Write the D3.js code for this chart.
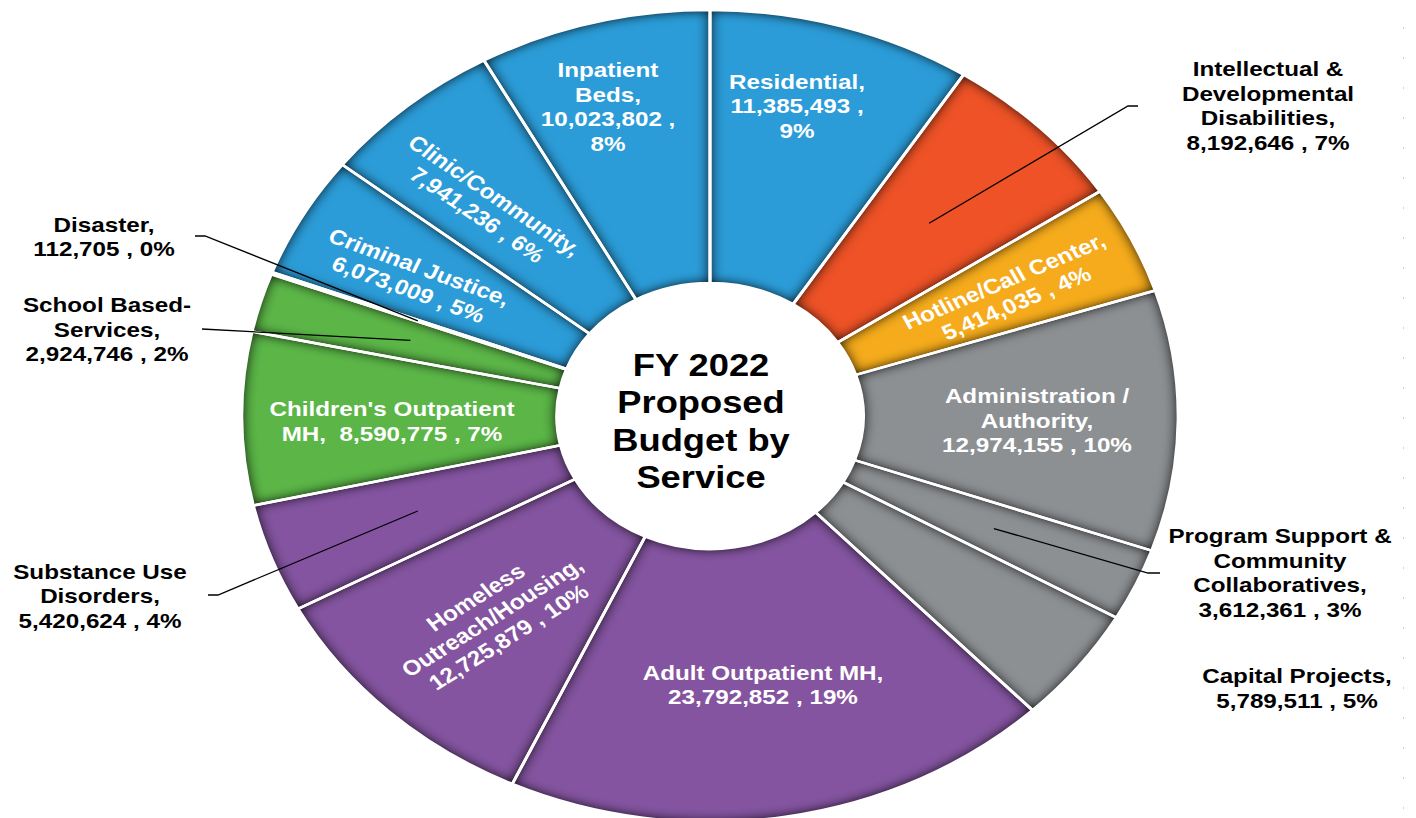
<!DOCTYPE html>
<html>
<head>
<meta charset="utf-8">
<script src="https://cdn.jsdelivr.net/npm/d3@7"></script>
<style>
  html, body { margin: 0; padding: 0; background: #ffffff; }
  svg { display: block; }
  text { font-family: "Liberation Sans", Arial, Helvetica, sans-serif; font-weight: bold; white-space: pre; }
</style>
</head>
<body>
<svg id="chart" width="1416" height="818"></svg>
<script>
// ---- Data: FY 2022 proposed budget by service (clockwise from 12 o'clock) ----
const categories = [
  "Residential",
  "Intellectual & Developmental Disabilities",
  "Hotline/Call Center",
  "Administration / Authority",
  "Program Support & Community Collaboratives",
  "Capital Projects",
  "Adult Outpatient MH",
  "Homeless Outreach/Housing",
  "Substance Use Disorders",
  "Children's Outpatient MH",
  "School Based-Services",
  "Disaster",
  "Criminal Justice",
  "Clinic/Community",
  "Inpatient Beds"
];
const budget = [
  11385493, 8192646, 5414035, 12974155, 3612361, 5789511, 23792852,
  12725879, 5420624, 8590775, 2924746, 112705, 6073009, 7941236, 10023802
];
// Label text lines; {v} = amount, {p} = share of total
const labelLines = [
  ["Residential,", "{v} ,", "{p}"],
  ["Intellectual &", "Developmental", "Disabilities,", "{v} , {p}"],
  ["Hotline/Call Center,", "{v} , {p}"],
  ["Administration /", "Authority,", "{v} , {p}"],
  ["Program Support &", "Community", "Collaboratives,", "{v} , {p}"],
  ["Capital Projects,", "{v} , {p}"],
  ["Adult Outpatient MH,", "{v} , {p}"],
  ["Homeless", "Outreach/Housing,", "{v} , {p}"],
  ["Substance Use", "Disorders,", "{v} , {p}"],
  ["Children's Outpatient", "MH,  {v} , {p}"],
  ["School Based-", "Services,", "{v} , {p}"],
  ["Disaster,", "{v} , {p}"],
  ["Criminal Justice,", "{v} , {p}"],
  ["Clinic/Community,", "{v} , {p}"],
  ["Inpatient", "Beds,", "{v} ,", "{p}"]
];
const titleLines = ["FY 2022", "Proposed", "Budget by", "Service"];

// ---- Styling ----
const sliceColors = [
  "#2b9cd8", "#ee5226", "#f5ab1b", "#8d9093", "#8d9093", "#8d9093", "#8454a0",
  "#8454a0", "#8454a0", "#5bb647", "#5bb647", "#8a8768", "#2b9cd8", "#2b9cd8", "#2b9cd8"
];

// Label placement (page pixels): block centre, visible baseline angle, outside or inside,
// and the elbow points of leader lines for labels that sit outside the ring.
const labelLayout = {
  "Residential":                                { x: 797,  y: 105.5, angle: 0,   inside: true },
  "Intellectual & Developmental Disabilities":  { x: 1268, y: 105.5, angle: 0,   inside: false, leader: [[1138, 106], [1128, 106]] },
  "Hotline/Call Center":                        { x: 1010, y: 292,   angle: -23, inside: true },
  "Administration / Authority":                 { x: 1037, y: 420,   angle: 0,   inside: true },
  "Program Support & Community Collaboratives": { x: 1280, y: 572.5, angle: 0,   inside: false, leader: [[1160, 573], [1148, 573]] },
  "Capital Projects":                           { x: 1297, y: 688,   angle: 0,   inside: false },
  "Adult Outpatient MH":                        { x: 763,  y: 684.5, angle: 0,   inside: true },
  "Homeless Outreach/Housing":                  { x: 492,  y: 617,   angle: -32, inside: true },
  "Substance Use Disorders":                    { x: 100,  y: 595.5, angle: 0,   inside: false, leader: [[208, 595], [218, 595]] },
  "Children's Outpatient MH":                   { x: 392,  y: 421,   angle: 0,   inside: true },
  "School Based-Services":                      { x: 107,  y: 329,   angle: 0,   inside: false, leader: [[202, 329]] },
  "Disaster":                                   { x: 104,  y: 236.5, angle: 0,   inside: false, leader: [[195, 236], [205, 236]] },
  "Criminal Justice":                           { x: 414,  y: 278,   angle: 20,  inside: true },
  "Clinic/Community":                           { x: 486,  y: 205,   angle: 34,  inside: true },
  "Inpatient Beds":                             { x: 608,  y: 106.5, angle: 0,   inside: true }
};

// ---- Geometry ----
const W = 1416, H = 818;
const cx = 710, cy = 416;      // ring centre
const SX = 1.153;              // horizontal stretch of the ring
const R = 406, R0 = 133;       // outer / inner radius (before stretch)
const labelSize = 21, labelLead = 24.5;

const total = d3.sum(budget);
const fmtNum = d3.format(",");
const fmtPct = v => Math.round(v / total * 100) + "%";

const rows = categories.map((c, i) => ({ name: c, value: budget[i], lines: labelLines[i] }));
const color = d3.scaleOrdinal(categories, sliceColors);

const pie = d3.pie().value(d => d.value).sort(null);
const arcs = pie(rows);
const arc = d3.arc().innerRadius(R0).outerRadius(R);
const leaderArc = d3.arc().innerRadius(R * 2 / 3).outerRadius(R * 2 / 3);

const svg = d3.select("#chart");

// Inner-shadow filter giving each slice its darkened rim
const defs = svg.append("defs");
const f = defs.append("filter").attr("id", "inset")
  .attr("color-interpolation-filters", "sRGB")
  .attr("x", "-10%").attr("y", "-10%").attr("width", "120%").attr("height", "120%");
f.append("feComponentTransfer").attr("in", "SourceAlpha").attr("result", "inv")
  .append("feFuncA").attr("type", "table").attr("tableValues", "1 0");
f.append("feGaussianBlur").attr("in", "inv").attr("stdDeviation", 6).attr("result", "blur");
f.append("feComposite").attr("in", "blur").attr("in2", "SourceAlpha").attr("operator", "in").attr("result", "inner");
f.append("feComponentTransfer").attr("in", "inner").attr("result", "shade")
  .append("feFuncA").attr("type", "linear").attr("slope", 1.0);
const fm = f.append("feMerge");
fm.append("feMergeNode").attr("in", "SourceGraphic");
fm.append("feMergeNode").attr("in", "shade");

// Faint dotted edge on the right
svg.append("line")
  .attr("x1", 1403.5).attr("x2", 1403.5).attr("y1", 0).attr("y2", H)
  .attr("stroke", "#cfcfcf").attr("stroke-width", 1)
  .attr("stroke-dasharray", "2 28").attr("stroke-dashoffset", -27);

// ---- Ring ----
const ring = svg.append("g").attr("transform", `translate(${cx},${cy}) scale(${SX},1)`);
ring.selectAll("path.slice")
  .data(arcs)
  .join("path")
  .attr("class", "slice")
  .attr("d", arc)
  .attr("fill", d => color(d.data.name))
  .attr("filter", "url(#inset)");
ring.selectAll("path.sep")
  .data(arcs)
  .join("path")
  .attr("class", "sep")
  .attr("d", arc)
  .attr("fill", "none")
  .attr("stroke", "#ffffff")
  .attr("stroke-width", 2.6)
  .attr("stroke-linejoin", "round");

// ---- Leader lines for outside labels ----
const toPage = p => [cx + SX * p[0], cy + p[1]];
arcs.forEach(d => {
  const L = labelLayout[d.data.name];
  if (!L.leader) return;
  const pts = L.leader.concat([toPage(leaderArc.centroid(d))]);
  svg.append("path")
    .attr("d", d3.line()(pts))
    .attr("fill", "none")
    .attr("stroke", "#000000")
    .attr("stroke-width", 1.3);
});

// ---- Labels ----
function fillLine(t, d) {
  return t.replace("{v}", fmtNum(d.value)).replace("{p}", fmtPct(d.value));
}
function block(x, y, angle, lines, size, lead, fill) {
  const theta = Math.atan(SX * Math.tan(angle * Math.PI / 180)) * 180 / Math.PI;
  const g = svg.append("g")
    .attr("transform", `translate(${x},${y}) scale(${SX},1) rotate(${theta})`);
  const t = g.append("text")
    .attr("text-anchor", "middle")
    .attr("font-size", size)
    .attr("fill", fill);
  const n = lines.length;
  lines.forEach((s, i) => {
    t.append("tspan")
      .attr("x", 0)
      .attr("y", (i - (n - 1) / 2) * lead + size * 0.716 / 2)
      .text(s);
  });
}
arcs.forEach(d => {
  const L = labelLayout[d.data.name];
  const lines = d.data.lines.map(s => fillLine(s, d.data));
  block(L.x, L.y, L.angle, lines, labelSize, labelLead, L.inside ? "#ffffff" : "#000000");
});

// ---- Centre title ----
block(701, 420.5, 0, titleLines, 31.5, 37.5, "#000000");
</script>
</body>
</html>
